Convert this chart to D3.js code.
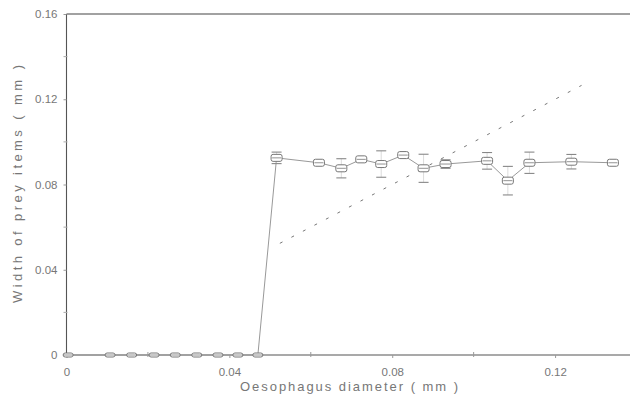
<!DOCTYPE html>
<html>
<head>
<meta charset="utf-8">
<script src="https://cdnjs.cloudflare.com/ajax/libs/d3/7.8.5/d3.min.js"></script>
<style>
  body{margin:0;background:#fff;}
  svg text{font-family:"Liberation Sans",Arial,sans-serif;fill:#777;}
</style>
</head>
<body>
<div id="vizHolder"></div>
<script>
// oesophagus diameter (mm), mean prey width (mm), error (mm)
const diam  = [0.0004,0.0107,0.0160,0.0215,0.0267,0.0320,0.0372,0.0421,0.0470,
               0.0516,0.0620,0.0675,0.0724,0.0773,0.0827,0.0877,0.0931,0.1033,0.1084,0.1137,0.1240,0.1342];
const width = [0,0,0,0,0,0,0,0,0,
               0.0925,0.0902,0.0876,0.0918,0.0896,0.0938,0.0876,0.0896,0.0911,0.0818,0.0902,0.0907,0.0902];
const err   = [0,0,0,0,0,0,0,0,0,
               0.0027,0,0.0045,0,0.0062,0,0.0066,0.002,0.0039,0.0067,0.005,0.0034,0];
// 1:1 reference line extent
const refLine = [0.0524,0.1265];
const xTicks = [0,0.04,0.08,0.12], xMinor = [0.02,0.06,0.10];
const yTicks = [0,0.04,0.08,0.12,0.16], yMinor = [0.02,0.06,0.10,0.14];

const W = 630, H = 402;
const svg = d3.select('#vizHolder').append('svg').attr('width',W).attr('height',H);
const x = d3.scaleLinear().domain([0,0.1384]).range([66.5,630]);
const y = d3.scaleLinear().domain([0,0.16]).range([355,14]);
const fmt = d => d===0 ? '0' : d.toFixed(2);
const axisCol = '#555';

// frame top line
svg.append('line').attr('x1',x(0)).attr('x2',W).attr('y1',y(0.16)).attr('y2',y(0.16))
    .attr('stroke','#444').attr('stroke-width',1.2);

const gx = svg.append('g').attr('transform',`translate(0,${y(0)})`)
    .call(d3.axisBottom(x).tickValues(xTicks).tickFormat(fmt).tickSize(3).tickPadding(10));
const gy = svg.append('g').attr('transform',`translate(${x(0)},0)`)
    .call(d3.axisLeft(y).tickValues(yTicks).tickFormat(fmt).tickSize(3).tickPadding(6));
[gx,gy].forEach(g=>{
    g.select('.domain').attr('stroke',axisCol).attr('stroke-width',1.1);
    g.selectAll('.tick line').attr('stroke','#999');
    g.selectAll('.tick text').attr('font-size',11.5).attr('fill','#7a7a7a')
        .style('font-family','"Liberation Sans",Arial,sans-serif');
});
gx.select('.domain').attr('d',`M${x(0)},0H${W}`);
gy.select('.domain').attr('d',`M0,${y(0.16)}V${y(0)}`);
svg.append('g').selectAll('line').data(xMinor).join('line')
    .attr('x1',d=>x(d)).attr('x2',d=>x(d)).attr('y1',y(0)-3).attr('y2',y(0)+2)
    .attr('stroke','#999');
svg.append('g').selectAll('line').data(yMinor).join('line')
    .attr('x1',x(0)-3).attr('x2',x(0)+1).attr('y1',d=>y(d)).attr('y2',d=>y(d))
    .attr('stroke','#aaa');

// axis titles
svg.append('text').attr('x',349).attr('y',391).attr('text-anchor','middle')
    .attr('font-size',13).attr('textLength',218).text('Oesophagus diameter  ( mm )');
svg.append('text').attr('transform','translate(22,184) rotate(-90)').attr('text-anchor','middle')
    .attr('font-size',13).attr('textLength',238).text('Width of prey items  ( mm )');

// 1:1 dashed line
svg.append('line')
    .attr('x1',x(refLine[0])).attr('y1',y(refLine[0]))
    .attr('x2',x(refLine[1])).attr('y2',y(refLine[1]))
    .attr('stroke','#777').attr('stroke-width',1).attr('stroke-dasharray','3,10');

const pts = diam.map((d,i)=>({x:d,y:width[i],e:err[i]}));

// connecting line
svg.append('path').datum(pts)
    .attr('d',d3.line().x(d=>x(d.x)).y(d=>y(d.y)))
    .attr('fill','none').attr('stroke','#999').attr('stroke-width',1);

// error bars
const eb = svg.append('g').selectAll('g').data(pts.filter(d=>d.e>0)).join('g');
eb.append('line').attr('x1',d=>x(d.x)).attr('x2',d=>x(d.x))
    .attr('y1',d=>y(d.y+d.e)).attr('y2',d=>y(d.y-d.e)).attr('stroke','#ccc').attr('stroke-width',0.7);
[1,-1].forEach(s=>{
    eb.append('line').attr('x1',d=>x(d.x)-5).attr('x2',d=>x(d.x)+5)
        .attr('y1',d=>y(d.y+s*d.e)).attr('y2',d=>y(d.y+s*d.e))
        .attr('stroke','#888').attr('stroke-width',1.1);
});

// markers
const mk = svg.append('g').selectAll('g').data(pts).join('g')
    .attr('transform',d=>`translate(${x(d.x)},${y(d.y)})`);
mk.append('rect').attr('x',d=>d.y>0?-5.5:-5).attr('y',d=>d.y>0?-3.5:-2)
    .attr('width',d=>d.y>0?11:10).attr('height',d=>d.y>0?7:4).attr('rx',2)
    .attr('fill','#fff').attr('stroke','#777').attr('stroke-width',1);
mk.append('line').attr('x1',-4.5).attr('x2',4.5).attr('y1',0).attr('y2',0)
    .attr('stroke','#777').attr('stroke-width',0.8);
</script>
</body>
</html>
